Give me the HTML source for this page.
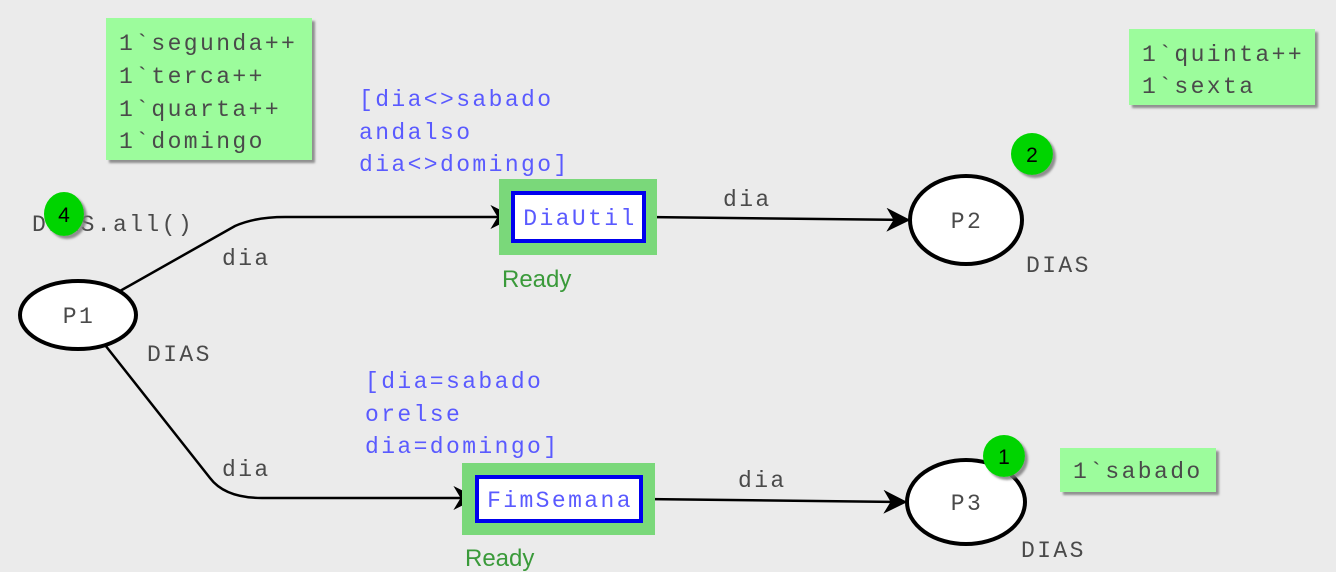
<!DOCTYPE html>
<html><head><meta charset="utf-8"><style>
html,body{margin:0;padding:0;background:#ebebeb;}
svg{display:block;}
text{font-family:"Liberation Mono",monospace;font-size:23px;letter-spacing:2.4px;}
.k{fill:#4a4a4a;}
.b{fill:#5a5aff;}
.r{font-family:"Liberation Sans",sans-serif;fill:#3a9a3a;font-size:24px;letter-spacing:0;}
.t{font-family:"Liberation Sans",sans-serif;font-size:21px;letter-spacing:0;fill:#000;}
</style></head><body>
<svg width="1336" height="572" viewBox="0 0 1336 572">
<defs>
<marker id="a" viewBox="0 0 20 20" refX="18" refY="10" markerWidth="24" markerHeight="24" markerUnits="userSpaceOnUse" orient="auto">
<path d="M0,0 L20,10 L0,20 L6,10 Z" fill="#000"/></marker>
<filter id="s" x="-10%" y="-10%" width="130%" height="130%"><feDropShadow dx="3" dy="3" stdDeviation="1" flood-color="#777" flood-opacity="0.8"/></filter>
</defs>
<rect x="0" y="0" width="1336" height="572" fill="#ebebeb"/>
<rect x="106" y="18" width="206" height="142" fill="#9cfc9c" filter="url(#s)"/>
<text class="k" x="119" y="50">1`segunda++</text>
<text class="k" x="119" y="83">1`terca++</text>
<text class="k" x="119" y="116">1`quarta++</text>
<text class="k" x="119" y="148">1`domingo</text>
<rect x="1129" y="29" width="186" height="76" fill="#9cfc9c" filter="url(#s)"/>
<text class="k" x="1142" y="61">1`quinta++</text>
<text class="k" x="1142" y="93">1`sexta</text>
<rect x="1060" y="448" width="156" height="44" fill="#9cfc9c" filter="url(#s)"/>
<text class="k" x="1073" y="478">1`sabado</text>
<path d="M120,291 L235,226 Q255,217 285,217 L512,217" fill="none" stroke="#000" stroke-width="2.5" marker-end="url(#a)"/>
<path d="M105,345 L210,478 Q225,498 262,498 L475,498" fill="none" stroke="#000" stroke-width="2.5" marker-end="url(#a)"/>
<path d="M645,217 L908,220" fill="none" stroke="#000" stroke-width="2.5" marker-end="url(#a)"/>
<path d="M642,499 L905,502" fill="none" stroke="#000" stroke-width="2.5" marker-end="url(#a)"/>
<text class="k" x="222" y="265">dia</text>
<text class="k" x="222" y="476">dia</text>
<text class="k" x="723" y="206">dia</text>
<text class="k" x="738" y="487">dia</text>
<text class="b" x="359" y="106">[dia&lt;&gt;sabado</text>
<text class="b" x="359" y="139">andalso</text>
<text class="b" x="359" y="171">dia&lt;&gt;domingo]</text>
<text class="b" x="365" y="388">[dia=sabado</text>
<text class="b" x="365" y="421">orelse</text>
<text class="b" x="365" y="453">dia=domingo]</text>
<rect x="499" y="179" width="158" height="76" fill="#7ad87a"/>
<rect x="513" y="193" width="131" height="48" fill="#fff" stroke="#0000ee" stroke-width="4"/>
<text class="b" x="580" y="225" text-anchor="middle">DiaUtil</text>
<text class="r" x="502" y="287">Ready</text>
<rect x="462" y="463" width="193" height="72" fill="#7ad87a"/>
<rect x="477" y="477" width="164" height="44" fill="#fff" stroke="#0000ee" stroke-width="4"/>
<text class="b" x="560" y="507" text-anchor="middle">FimSemana</text>
<text class="r" x="465" y="566">Ready</text>
<ellipse cx="78" cy="315" rx="58" ry="34" fill="#fff" stroke="#000" stroke-width="4"/>
<text class="k" x="79" y="323" text-anchor="middle">P1</text>
<text class="k" x="147" y="361">DIAS</text>
<text class="k" x="32" y="231">DIAS.all()</text>
<ellipse cx="966" cy="220" rx="56" ry="44" fill="#fff" stroke="#000" stroke-width="4"/>
<text class="k" x="967" y="228" text-anchor="middle">P2</text>
<text class="k" x="1026" y="272">DIAS</text>
<ellipse cx="966" cy="502" rx="59" ry="42" fill="#fff" stroke="#000" stroke-width="4"/>
<text class="k" x="967" y="510" text-anchor="middle">P3</text>
<text class="k" x="1021" y="557">DIAS</text>
<ellipse cx="64" cy="214" rx="20" ry="22" fill="#00d400" filter="url(#s)"/>
<text class="t" x="64" y="222" text-anchor="middle">4</text>
<circle cx="1032" cy="154" r="21" fill="#00d400" filter="url(#s)"/>
<text class="t" x="1032" y="162" text-anchor="middle">2</text>
<circle cx="1004" cy="456" r="21" fill="#00d400" filter="url(#s)"/>
<text class="t" x="1004" y="464" text-anchor="middle">1</text>
</svg>
</body></html>
